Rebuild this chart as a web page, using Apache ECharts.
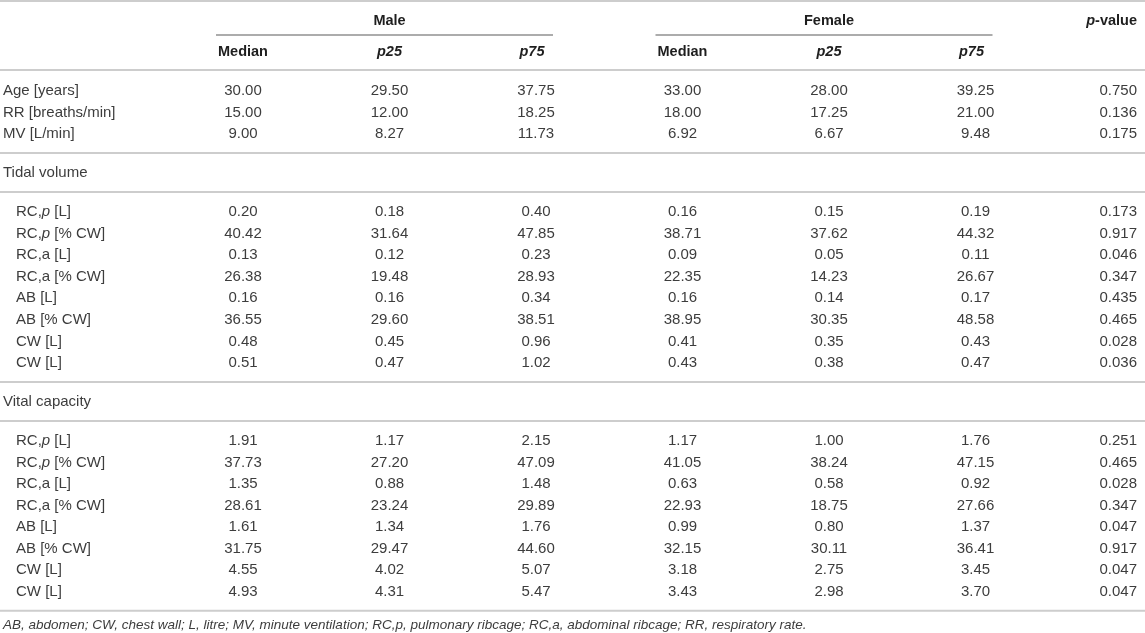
<!DOCTYPE html>
<html><head><meta charset="utf-8">
<script src="https://cdn.jsdelivr.net/npm/echarts@6/dist/echarts.min.js"></script>
<style>html,body{margin:0;padding:0;background:#fff}#c{width:1145px;height:633px}</style>
</head><body><div id="c"></div>
<script>
// ---------- data ----------
const groups = ['Male', 'Female'];
const statCols = ['Median', 'p25', 'p75'];
const pHeader = 'p-value';

const generalLabels = ['Age [years]', 'RR [breaths/min]', 'MV [L/min]'];
const generalMaleMedian = [30.00, 15.00, 9.00];
const generalMaleP25 = [29.50, 12.00, 8.27];
const generalMaleP75 = [37.75, 18.25, 11.73];
const generalFemaleMedian = [33.00, 18.00, 6.92];
const generalFemaleP25 = [28.00, 17.25, 6.67];
const generalFemaleP75 = [39.25, 21.00, 9.48];
const generalP = [0.750, 0.136, 0.175];

const sectionNames = ['Tidal volume', 'Vital capacity'];
const subLabels = ['RC,p [L]', 'RC,p [% CW]', 'RC,a [L]', 'RC,a [% CW]', 'AB [L]', 'AB [% CW]', 'CW [L]', 'CW [L]'];

const tidalMaleMedian = [0.20, 40.42, 0.13, 26.38, 0.16, 36.55, 0.48, 0.51];
const tidalMaleP25 = [0.18, 31.64, 0.12, 19.48, 0.16, 29.60, 0.45, 0.47];
const tidalMaleP75 = [0.40, 47.85, 0.23, 28.93, 0.34, 38.51, 0.96, 1.02];
const tidalFemaleMedian = [0.16, 38.71, 0.09, 22.35, 0.16, 38.95, 0.41, 0.43];
const tidalFemaleP25 = [0.15, 37.62, 0.05, 14.23, 0.14, 30.35, 0.35, 0.38];
const tidalFemaleP75 = [0.19, 44.32, 0.11, 26.67, 0.17, 48.58, 0.43, 0.47];
const tidalP = [0.173, 0.917, 0.046, 0.347, 0.435, 0.465, 0.028, 0.036];

const vitalMaleMedian = [1.91, 37.73, 1.35, 28.61, 1.61, 31.75, 4.55, 4.93];
const vitalMaleP25 = [1.17, 27.20, 0.88, 23.24, 1.34, 29.47, 4.02, 4.31];
const vitalMaleP75 = [2.15, 47.09, 1.48, 29.89, 1.76, 44.60, 5.07, 5.47];
const vitalFemaleMedian = [1.17, 41.05, 0.63, 22.93, 0.99, 32.15, 3.18, 3.43];
const vitalFemaleP25 = [1.00, 38.24, 0.58, 18.75, 0.80, 30.11, 2.75, 2.98];
const vitalFemaleP75 = [1.76, 47.15, 0.92, 27.66, 1.37, 36.41, 3.45, 3.70];
const vitalP = [0.251, 0.465, 0.028, 0.347, 0.047, 0.917, 0.047, 0.047];

const footnote = 'AB, abdomen; CW, chest wall; L, litre; MV, minute ventilation; RC,p, pulmonary ribcage; RC,a, abdominal ribcage; RR, respiratory rate.';

// ---------- layout ----------
const W = 1145, H = 633;
const FONT = '"Liberation Sans", Arial, Helvetica, sans-serif';
const COL0 = 243, COLSTEP = 146.5, PRIGHT = 1137;
const LABEL_X = 3, INDENT_X = 16;
const ROW = 21.55;
const colX = i => COL0 + i * COLSTEP;

const texts = [];
const rules = [];
function addText(x, y, text, kind, align) { texts.push({x, y, text, kind, align}); }

// header
let y = 21;
rules.push([0, W, 1, 'rule']);
groups.forEach((g, gi) => {
  addText(colX(gi * 3 + 1), y, g, 'head', 'center');
  rules.push([colX(gi * 3) - 27, colX(gi * 3 + 2) + 17, 35, 'under']);
});
addText(PRIGHT, y, pHeader, 'pvalue', 'right');
y = 52;
groups.forEach((g, gi) => statCols.forEach((s, si) => {
  addText(colX(gi * 3 + si) - (si === 2 ? 4 : 0), y, s, si === 0 ? 'head' : 'headItalic', 'center');
}));
let lineY = 70;
rules.push([0, W, lineY, 'rule']);

function addBlock(labels, cols, pv, indent) {
  labels.forEach((lab, r) => {
    addText(indent ? INDENT_X : LABEL_X, y, lab, 'label', 'left');
    cols.forEach((arr, ci) => addText(colX(ci), y, arr[r].toFixed(2), 'body', 'center'));
    addText(PRIGHT, y, pv[r].toFixed(3), 'body', 'right');
    y += ROW;
  });
}

y = lineY + 21;
addBlock(generalLabels, [generalMaleMedian, generalMaleP25, generalMaleP75, generalFemaleMedian, generalFemaleP25, generalFemaleP75], generalP, false);
lineY = y - ROW + 19; rules.push([0, W, lineY, 'rule']);

const sections = [
  [tidalMaleMedian, tidalMaleP25, tidalMaleP75, tidalFemaleMedian, tidalFemaleP25, tidalFemaleP75, tidalP],
  [vitalMaleMedian, vitalMaleP25, vitalMaleP75, vitalFemaleMedian, vitalFemaleP25, vitalFemaleP75, vitalP]
];
sectionNames.forEach((name, si) => {
  y = lineY + 20;
  addText(LABEL_X, y, name, 'body', 'left');
  lineY = y + 19; rules.push([0, W, lineY, 'rule']);
  y = lineY + 20;
  const s = sections[si];
  addBlock(subLabels, s.slice(0, 6), s[6], true);
  lineY = y - ROW + 19; rules.push([0, W, lineY, 'rule']);
});
addText(LABEL_X, lineY + 14, footnote, 'foot', 'left');

// ---------- styles ----------
const BODY = '#3d3d3d', HEAD = '#1e1e1e';
const BODYFONT = '15px ' + FONT, HEADFONT = 'bold 14.5px ' + FONT;
function styleFor(t) {
  const base = {align: t.align, verticalAlign: 'middle', fill: BODY, font: BODYFONT};
  switch (t.kind) {
    case 'head': return Object.assign(base, {fill: HEAD, font: HEADFONT, text: t.text});
    case 'headItalic': return Object.assign(base, {fill: HEAD, font: 'italic ' + HEADFONT, text: t.text});
    case 'pvalue': return Object.assign(base, {
      text: '{i|p}{b|-value}',
      rich: {i: {font: 'italic ' + HEADFONT, fill: HEAD}, b: {font: HEADFONT, fill: HEAD}}
    });
    case 'label': {
      if (t.text.indexOf('RC,p') === 0) {
        return Object.assign(base, {
          text: '{n|RC,}{i|p}{n|' + t.text.slice(4) + '}',
          rich: {n: {font: BODYFONT, fill: BODY}, i: {font: 'italic ' + BODYFONT, fill: BODY}}
        });
      }
      return Object.assign(base, {text: t.text});
    }
    case 'foot': return Object.assign(base, {font: 'italic 13.5px ' + FONT, text: t.text});
    default: return Object.assign(base, {text: t.text});
  }
}

const chart = echarts.init(document.getElementById('c'), null, {renderer: 'canvas'});
chart.setOption({
  backgroundColor: '#ffffff',
  animation: false,
  grid: {left: 0, right: 0, top: 0, bottom: 0},
  xAxis: {type: 'value', min: 0, max: W, show: false},
  yAxis: {type: 'value', min: 0, max: H, inverse: true, show: false},
  series: [
    {
      type: 'custom',
      name: 'rules',
      data: rules.map(r => r.slice(0, 3)),
      encode: {x: [0, 1], y: 2},
      renderItem: function (params, api) {
        const kind = rules[params.dataIndex][3];
        const a = api.coord([api.value(0), api.value(2)]);
        const b = api.coord([api.value(1), api.value(2)]);
        return {type: 'line', shape: {x1: a[0], y1: a[1], x2: b[0], y2: b[1]},
          style: kind === 'under' ? {stroke: '#5a5a5a', lineWidth: 1.2} : {stroke: '#cdcdcd', lineWidth: 2}};
      }
    },
    {
      type: 'custom',
      name: 'cells',
      data: texts.map((t, i) => [t.x, t.y, i]),
      encode: {x: 0, y: 1},
      renderItem: function (params, api) {
        const t = texts[api.value(2)];
        const p = api.coord([api.value(0), api.value(1)]);
        return {type: 'text', x: p[0], y: p[1], style: styleFor(t)};
      }
    }
  ]
});
</script></body></html>
